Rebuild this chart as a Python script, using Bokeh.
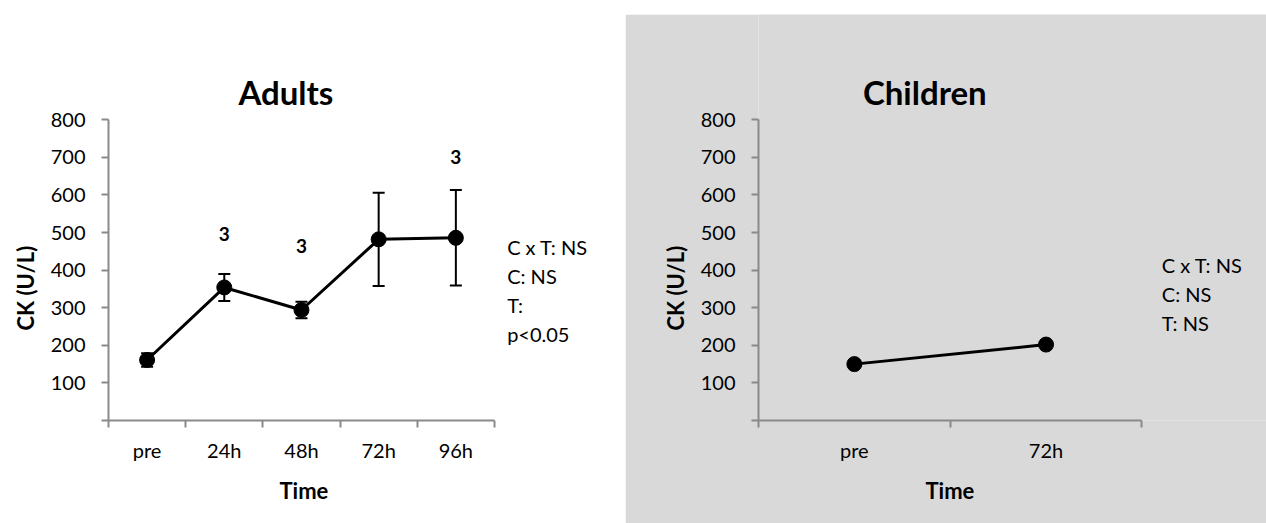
from bokeh.plotting import figure
from bokeh.layouts import row, column
from bokeh.models import (ColumnDataSource, Whisker, TeeHead, FixedTicker, Range1d, Spacer,
                          Title)
from bokeh.core.properties import value
from bokeh.embed import file_html
from bokeh.resources import INLINE

# ---------------- data ----------------
adult_times = ["pre", "24h", "48h", "72h", "96h"]
adult_ck = [161, 354, 294, 482, 486]
adult_err = [18, 36, 22, 124, 127]
adult_sig = ["", "3", "3", "", "3"]
adult_sig_y = [None, 497, 464, None, 700]
adult_stats = ["C x T: NS", "C: NS", "T:", "p<0.05"]

child_times = ["pre", "72h"]
child_ck = [150, 202]
child_stats = ["C x T: NS", "C: NS", "T: NS"]

y_ticks = [0, 100, 200, 300, 400, 500, 600, 700, 800]
y_max = 800

FONT = "Lato"
AXIS_COL = "#8a8a8a"
GREY = "#d9d9d9"

# ---------------- layout constants (pixels) ----------------
PX_PER_Y = 300.7 / y_max        # vertical pixels per data unit
AXIS_BOTTOM = 103                # px below the x axis


def base_fig(width, height, n, bg, left, px_per_cat):
    frame_w = width - left
    frame_h = height - AXIS_BOTTOM
    p = figure(width=width, height=height, output_backend="svg", toolbar_location=None,
               x_range=Range1d(0, frame_w / px_per_cat),
               y_range=Range1d(0, frame_h / PX_PER_Y),
               min_border_left=left, min_border_right=0,
               min_border_top=0, min_border_bottom=AXIS_BOTTOM,
               background_fill_color=bg, border_fill_color=bg)
    p.outline_line_color = None
    p.xgrid.visible = False
    p.ygrid.visible = False
    return p


def style_axes(p, cats, xlabel_offset, ylabel_offset):
    n = len(cats)
    centers = [i + 0.5 for i in range(n)]
    xa = p.xaxis[0]
    xa.bounds = (0, n)
    xa.ticker = FixedTicker(ticks=centers, minor_ticks=list(range(n + 1)))
    xa.major_label_overrides = {c: t for c, t in zip(centers, cats)}
    xa.major_tick_out = 0
    xa.major_tick_in = 0
    xa.minor_tick_out = 7
    xa.minor_tick_in = 0
    xa.minor_tick_line_color = AXIS_COL
    xa.minor_tick_line_width = 2
    xa.axis_line_color = AXIS_COL
    xa.axis_line_width = 2
    xa.major_label_text_font = FONT
    xa.major_label_text_font_size = "20px"
    xa.major_label_text_color = "black"
    xa.major_label_standoff = 10

    ya = p.yaxis[0]
    ya.bounds = (0, y_max)
    ya.ticker = FixedTicker(ticks=y_ticks, minor_ticks=[])
    ya.major_label_overrides = {0: ""}
    ya.major_tick_out = 7
    ya.major_tick_in = 0
    ya.major_tick_line_color = AXIS_COL
    ya.major_tick_line_width = 2
    ya.minor_tick_line_color = None
    ya.axis_line_color = AXIS_COL
    ya.axis_line_width = 2
    ya.major_label_text_font = FONT
    ya.major_label_text_font_size = "20px"
    ya.major_label_text_color = "black"
    ya.major_label_standoff = 16

    p.add_layout(Title(text="Time", align="left", offset=xlabel_offset, standoff=20,
                       text_font=FONT, text_font_style="bold", text_font_size="22px",
                       text_color="black"), "below")
    p.add_layout(Title(text="CK (U/L)", align="left", offset=ylabel_offset, standoff=18,
                       text_font=FONT, text_font_style="bold", text_font_size="22px",
                       text_color="black"), "left")


def add_title(p, text, x, y):
    p.text(x=[x], y=[y], text=[text], text_font=value(FONT), text_font_style="bold",
           text_font_size="33px", text_align="center", text_baseline="alphabetic",
           text_color="black")


def add_stats(p, lines, x, y0, dy):
    p.text(x=[x] * len(lines), y=[y0 - i * dy for i in range(len(lines))], text=lines,
           text_font=value(FONT), text_font_size="20px", text_align="left",
           text_baseline="alphabetic", text_color="black")


# ---------------- Adults ----------------
PX_CAT1 = 77.34
p1 = base_fig(625, 523, len(adult_times), "white", 107, PX_CAT1)
style_axes(p1, adult_times, 171, 90)
xs1 = [i + 0.5 for i in range(len(adult_times))]
src1 = ColumnDataSource(dict(
    x=xs1, y=adult_ck,
    upper=[v + e for v, e in zip(adult_ck, adult_err)],
    lower=[v - e for v, e in zip(adult_ck, adult_err)],
))
p1.add_layout(Whisker(base="x", upper="upper", lower="lower", source=src1,
                      line_color="black", line_width=2,
                      upper_head=TeeHead(size=12, line_color="black", line_width=2),
                      lower_head=TeeHead(size=12, line_color="black", line_width=2)))
p1.line("x", "y", source=src1, line_color="black", line_width=3)
p1.scatter("x", "y", source=src1, size=15, fill_color="black", line_color="black")

sig_x = [x for x, s in zip(xs1, adult_sig) if s]
sig_yv = [y for y, s in zip(adult_sig_y, adult_sig) if s]
sig_t = [s for s in adult_sig if s]
p1.text(x=sig_x, y=sig_yv, text=sig_t, text_font=value(FONT), text_font_style="bold",
        text_font_size="19px", text_align="center", text_baseline="middle",
        text_color="black")

add_title(p1, "Adults", 177.7 / PX_CAT1, 328.3 / PX_PER_Y)
add_stats(p1, adult_stats, 399.4 / PX_CAT1, 173.3 / PX_PER_Y, 29.0 / PX_PER_Y)

# ---------------- Children ----------------
PX_CAT2 = 191.7
p2 = base_fig(641, 509, len(child_times), GREY, 133, PX_CAT2)
style_axes(p2, child_times, 167, 90)
xs2 = [i + 0.5 for i in range(len(child_times))]
src2 = ColumnDataSource(dict(x=xs2, y=child_ck))
p2.line("x", "y", source=src2, line_color="black", line_width=3)
p2.scatter("x", "y", source=src2, size=15, fill_color="black", line_color="black")

add_title(p2, "Children", 166.3 / PX_CAT2, 328.3 / PX_PER_Y)
add_stats(p2, child_stats, 403.3 / PX_CAT2, 155.7 / PX_PER_Y, 29.0 / PX_PER_Y)

layout = row(p1, column(Spacer(width=641, height=14), p2))
open("out.html", "w").write(file_html(layout, INLINE))
